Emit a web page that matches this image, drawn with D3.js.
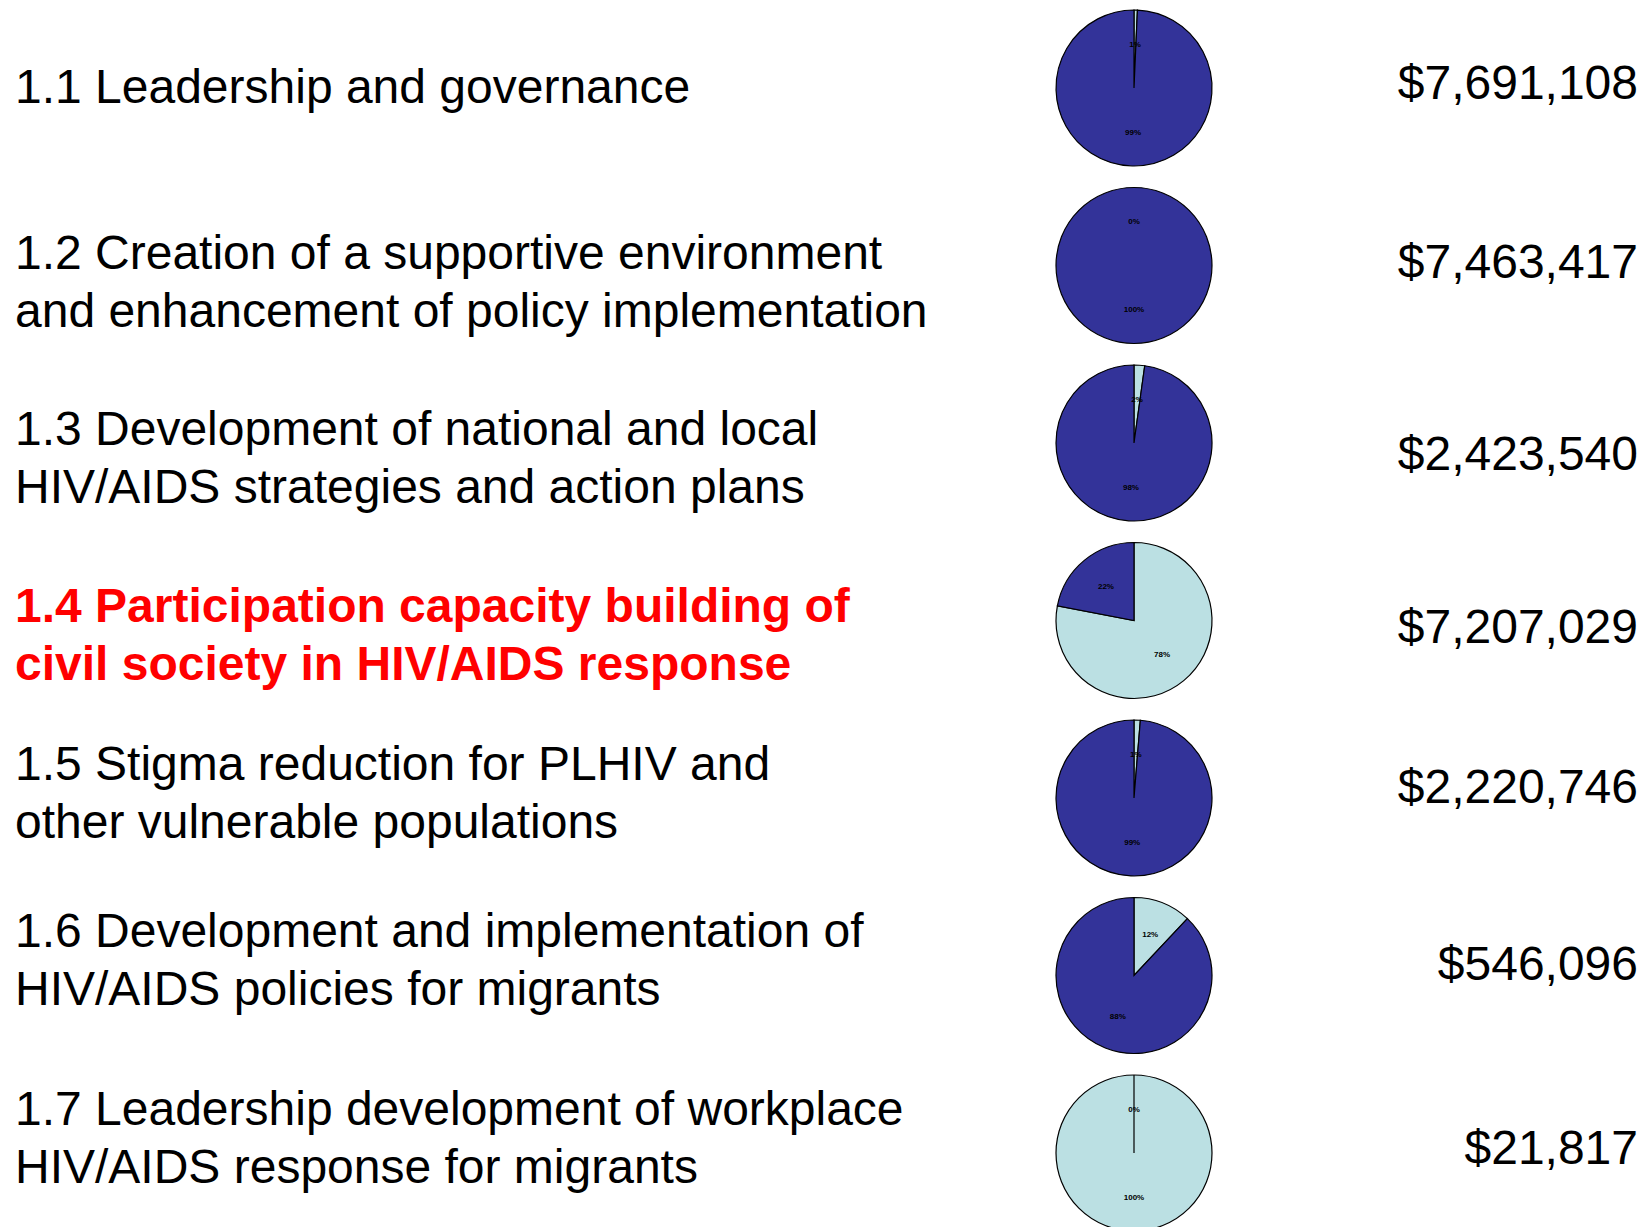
<!DOCTYPE html>
<html>
<head>
<meta charset="utf-8">
<script src="https://cdn.jsdelivr.net/npm/d3@7"></script>
<style>
  html, body { margin: 0; padding: 0; background: #fff; }
  svg { display: block; }
</style>
</head>
<body>
<svg class="funding-pies" width="1645" height="1227"></svg>
<script>
// chart values
const categories = ["1.1", "1.2", "1.3", "1.4", "1.5", "1.6", "1.7"];
const labelLines = [
  ["1.1 Leadership and governance"],
  ["1.2 Creation of a supportive environment", "and enhancement of policy implementation"],
  ["1.3 Development of national and local", "HIV/AIDS strategies and action plans"],
  ["1.4 Participation capacity building of", "civil society in HIV/AIDS response"],
  ["1.5 Stigma reduction for PLHIV and", "other vulnerable populations"],
  ["1.6 Development and implementation of", "HIV/AIDS policies for migrants"],
  ["1.7 Leadership development of workplace", "HIV/AIDS response for migrants"]
];
const highlighted = ["1.4"];
// share of each budget line (percent), light slice drawn first from 12 o'clock
const lightShare = [0.7, 0, 2.2, 78, 1.3, 12, 100];
const darkShare = [99.3, 100, 97.8, 22, 98.7, 88, 0];
const totals = ["$7,691,108", "$7,463,417", "$2,423,540", "$7,207,029", "$2,220,746", "$546,096", "$21,817"];

// layout (text rows are not evenly spaced on the slide)
const textBaseline = [103, 269, 445, 622, 780, 947, 1125];
const totalBaseline = [99, 278, 470, 643, 803, 980, 1164];

const svg = d3.select("svg.funding-pies"),
  width = +svg.attr("width"),
  height = +svg.attr("height");

const FONT = "'Liberation Sans', Arial, Helvetica, sans-serif";
const colors = { light: "#BBE0E3", dark: "#333399" };

// pies laid out with a point scale
const yScale = d3.scalePoint().domain(categories).range([88, 1153]);
const pieX = 1134,
  radius = 78,
  lineGap = 57.5;

const pie = d3.pie().sort(null).value((d) => d.value);
const arc = d3.arc().innerRadius(0).outerRadius(radius);
const labelArc = d3.arc().innerRadius(44).outerRadius(44);
const pct = (v) => Math.round(v) + "%";

const rows = svg
  .selectAll("g.row")
  .data(categories)
  .enter()
  .append("g")
  .attr("class", "row");

// left text
rows.each(function (cat, i) {
  const isHi = highlighted.includes(cat);
  const t = d3
    .select(this)
    .append("text")
    .attr("x", 15)
    .attr("y", textBaseline[i])
    .attr("font-family", FONT)
    .attr("font-size", 48)
    .attr("font-weight", isHi ? "bold" : "normal")
    .attr("fill", isHi ? "#FF0000" : "#000");
  labelLines[i].forEach((l, j) => {
    t.append("tspan").attr("x", 15).attr("dy", j === 0 ? 0 : lineGap).text(l);
  });
});

// pies
rows.each(function (cat, i) {
  const g = d3
    .select(this)
    .append("g")
    .attr("transform", `translate(${pieX}, ${yScale(cat)})`);
  const slices = pie([
    { key: "light", value: lightShare[i] },
    { key: "dark", value: darkShare[i] }
  ]);
  g.selectAll("path")
    .data(slices)
    .enter()
    .append("path")
    .attr("d", arc)
    .attr("fill", (d) => colors[d.data.key])
    .attr("stroke", "#000")
    .attr("stroke-width", 1.2);
  g.selectAll("text")
    .data(slices)
    .enter()
    .append("text")
    .attr("transform", (d) => `translate(${labelArc.centroid(d)})`)
    .attr("text-anchor", "middle")
    .attr("dy", "0.35em")
    .attr("font-family", FONT)
    .attr("font-size", 8)
    .attr("font-weight", "bold")
    .attr("fill", "#000")
    .text((d) => pct(d.data.value));
});

// totals on the right
rows
  .append("text")
  .attr("x", 1638)
  .attr("y", (cat, i) => totalBaseline[i])
  .attr("text-anchor", "end")
  .attr("font-family", FONT)
  .attr("font-size", 48)
  .attr("fill", "#000")
  .text((cat, i) => totals[i]);
</script>
</body>
</html>
